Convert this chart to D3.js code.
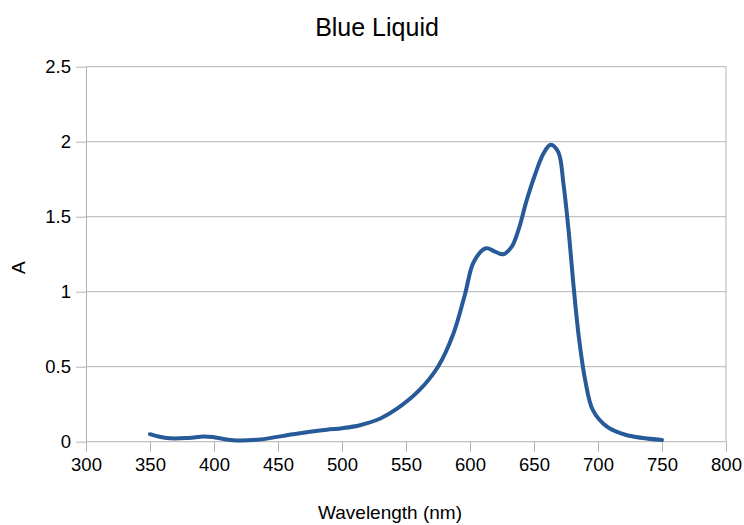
<!DOCTYPE html>
<html>
<head>
<meta charset="utf-8">
<script src="https://cdn.jsdelivr.net/npm/d3@7"></script>
<style>
  body { margin: 0; background: #fff; }
  svg { font-family: 'Liberation Sans', Arial, sans-serif; }
  .grid line { stroke: #b3b3b3; }
  .axis path, .axis line { stroke: #b3b3b3; }
  .axis text { fill: #000; font-size: 18.5px; }
</style>
</head>
<body>
<svg id="chart" width="744" height="525"></svg>
<script>
// wavelength (nm) and absorbance
const wavelength = [350, 363, 380, 392, 400, 415, 436, 462, 488, 500, 514, 530, 543, 560, 575, 587, 596, 603, 612.5, 620, 626, 632.6, 637.8, 644.3, 650.8, 657.3, 663, 669, 673, 677, 681, 685, 690, 696, 707, 722, 750];
const absorbance = [0.05, 0.024, 0.025, 0.035, 0.03, 0.01, 0.015, 0.05, 0.08, 0.09, 0.11, 0.155, 0.22, 0.34, 0.5, 0.72, 0.98, 1.2, 1.29, 1.265, 1.25, 1.30, 1.41, 1.61, 1.78, 1.92, 1.98, 1.93, 1.72, 1.41, 1.03, 0.70, 0.41, 0.21, 0.10, 0.045, 0.012];
const xTicks = [300, 350, 400, 450, 500, 550, 600, 650, 700, 750, 800];
const yTicks = [0, 0.5, 1, 1.5, 2, 2.5];

const data = wavelength.map((w, i) => ({ w: w, a: absorbance[i] }));

const svg = d3.select('#chart');
const margin = { top: 66.7, right: 18, bottom: 83.3, left: 86 };
const width = 744, height = 525;

const x = d3.scaleLinear().domain([300, 800]).range([margin.left, width - margin.right]);
const y = d3.scaleLinear().domain([0, 2.5]).range([height - margin.bottom, margin.top]);

// horizontal gridlines
svg.append('g').attr('class', 'grid')
  .selectAll('line').data(yTicks).join('line')
  .attr('x1', margin.left).attr('x2', width - margin.right)
  .attr('y1', d => y(d)).attr('y2', d => y(d));

// right border
svg.append('line')
  .attr('x1', width - margin.right).attr('x2', width - margin.right)
  .attr('y1', y(2.5)).attr('y2', y(0))
  .attr('stroke', '#b3b3b3');

const xAxis = d3.axisBottom(x).tickValues(xTicks).tickSize(10).tickSizeOuter(0).tickPadding(6);
svg.append('g').attr('class', 'axis')
  .attr('transform', `translate(0,${y(0)})`)
  .call(xAxis)
  .call(g => g.select('.domain').remove());

const yAxis = d3.axisLeft(y).tickValues(yTicks).tickSize(10).tickSizeOuter(0).tickPadding(5)
  .tickFormat(d => d);
svg.append('g').attr('class', 'axis')
  .attr('transform', `translate(${margin.left},0)`)
  .call(yAxis);

const line = d3.line()
  .x(d => x(d.w))
  .y(d => y(d.a))
  .curve(d3.curveCatmullRom.alpha(0.5));

svg.append('path')
  .datum(data)
  .attr('fill', 'none')
  .attr('stroke', '#275a98')
  .attr('stroke-width', 4)
  .attr('stroke-linejoin', 'round')
  .attr('stroke-linecap', 'round')
  .attr('d', line);

svg.append('text')
  .attr('x', 377).attr('y', 36)
  .attr('text-anchor', 'middle')
  .attr('font-size', 25)
  .text('Blue Liquid');

svg.append('text')
  .attr('x', 390).attr('y', 519)
  .attr('text-anchor', 'middle')
  .attr('font-size', 19)
  .text('Wavelength (nm)');

svg.append('text')
  .attr('transform', `translate(25,${y(1.16)}) rotate(-90)`)
  .attr('text-anchor', 'middle')
  .attr('font-size', 19)
  .text('A');
</script>
</body>
</html>
